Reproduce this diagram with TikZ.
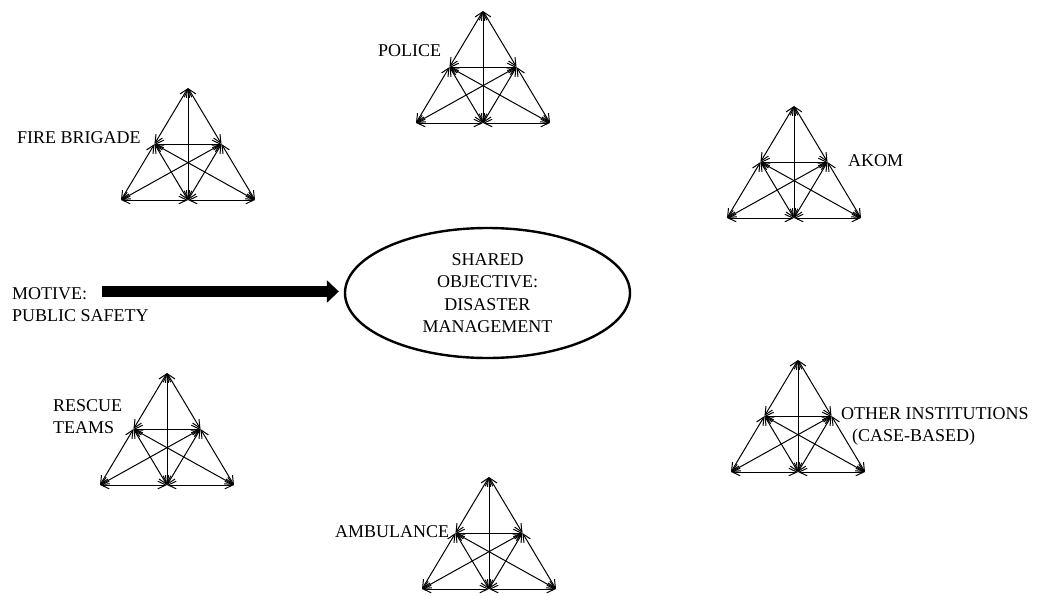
\documentclass[tikz,border=0pt]{standalone}
\usepackage{fontspec}
\setmainfont{Liberation Serif}
\usetikzlibrary{arrows.meta,shapes.geometric}
\begin{document}
\begin{tikzpicture}[x=1pt,y=-1pt,
  link/.style={line width=1pt,{Straight Barb[length=8pt,width=7.5pt]}-{Straight Barb[length=8pt,width=7.5pt]}},
  label/.style={font=\fontsize{18}{22.5}\selectfont,inner sep=0pt,align=left,anchor=north west},
  goalshape/.style={draw,ellipse,line width=2.4pt,minimum width=285pt,minimum height=130pt,inner sep=0pt,
    font=\fontsize{18}{22.5}\selectfont,align=center},
  bigarrow/.style={line width=10.5pt,-{Triangle[length=12pt,width=22pt]}},
  net/.pic={
    % six points of a subdivided triangle, apex at the origin
    \coordinate (-t) at (0,0);
    \coordinate (-a) at (-67,112);
    \coordinate (-b) at (67,112);
    \coordinate (-m) at (0,112);
    \coordinate (-l) at (-33.5,56);
    \coordinate (-r) at (33.5,56);
    \draw[link] (-t) -- (-l);
    \draw[link] (-l) -- (-a);
    \draw[link] (-t) -- (-r);
    \draw[link] (-r) -- (-b);
    \draw[link] (-t) -- (-m);
    \draw[link] (-l) -- (-r);
    \draw[link] (-a) -- (-m);
    \draw[link] (-m) -- (-b);
    \draw[link] (-l) -- (-m);
    \draw[link] (-r) -- (-m);
    \draw[link] (-l) -- (-b);
    \draw[link] (-r) -- (-a);
  }]
\useasboundingbox (0,0) rectangle (1039,595);

% teams
\pic (police) at (483,11) {net};
\pic (fire) at (188,88) {net};
\pic (akom) at (794,106) {net};
\pic (other) at (798,360) {net};
\pic (rescue) at (167,373) {net};
\pic (amb) at (489,477) {net};

% team labels
\node[label] (policelbl) at (378,44) {POLICE};
\node[label] (firelbl) at (17,131) {FIRE BRIGADE};
\node[label] (akomlbl) at (848,154) {AKOM};
\node[label] (amblbl) at (335,525) {AMBULANCE};
\node[label] (rescuelbl) at (53,399) {RESCUE\\TEAMS};
\node[label] (otherlbl) at (841,407) {OTHER INSTITUTIONS\\\hspace*{11pt}(CASE-BASED)};

% shared objective
\node[goalshape] (goal) at (487.5,293) {SHARED\\OBJECTIVE:\\DISASTER\\MANAGEMENT};

% motive
\node[label] (motive) at (12,287) {MOTIVE:\\PUBLIC SAFETY};
\coordinate (tail) at (102,291.5);
\draw[bigarrow,shorten >=5pt] (tail) -- (tail -| goal.west);
\end{tikzpicture}
\end{document}
